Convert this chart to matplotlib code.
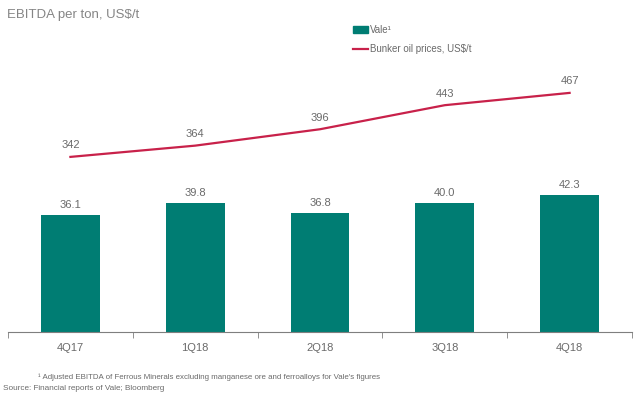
import numpy as np
import matplotlib.pyplot as plt
from matplotlib.patches import Patch
from matplotlib.lines import Line2D

plt.rcParams['font.family'] = ['Liberation Sans', 'DejaVu Sans']

quarters = ['4Q17', '1Q18', '2Q18', '3Q18', '4Q18']
vale_ebitda = [36.1, 39.8, 36.8, 40.0, 42.3]
bunker_oil = [342, 364, 396, 443, 467]

teal = '#007D73'
red = '#C8214A'
grey = '#6a6a6a'

fig = plt.figure(figsize=(6.4, 3.96), dpi=100)
ax = fig.add_axes([8 / 640, 64 / 396, 624 / 640, 292 / 396])
x = np.arange(len(quarters))

ax.bar(x, vale_ebitda, width=0.47, color=teal)
for xi, v in zip(x, vale_ebitda):
    ax.text(xi, v + 1.6, f'{v:.1f}', ha='center', va='bottom', fontsize=8, color=grey)
ax.set_xlim(-0.5, len(quarters) - 0.5)
ax.set_ylim(0, 292 / 3.23)

ax2 = ax.twinx()
ax2.plot(x, bunker_oil, color=red, lw=1.6)
for xi, v in zip(x, bunker_oil):
    ax2.text(xi, v + 13, f'{v}', ha='center', va='bottom', fontsize=8, color=grey)
ax2.set_ylim(0, 292 / 0.512)

for a in (ax, ax2):
    for s in ['top', 'right', 'left']:
        a.spines[s].set_visible(False)
    a.set_yticks([])
ax2.spines['bottom'].set_visible(False)
ax.spines['bottom'].set_color('#7f7f7f')

ax.set_xticks(np.arange(len(quarters) + 1) - 0.5, minor=True)
ax.tick_params(axis='x', which='minor', length=4, color='#7f7f7f')
ax.set_xticks(x)
ax.set_xticklabels(quarters, fontsize=8, color=grey)
ax.tick_params(axis='x', which='major', length=0, pad=8)

handles = [Patch(color=teal), Line2D([0], [0], color=red, lw=1.6)]
fig.legend(handles, ['Vale¹', 'Bunker oil prices, US$/t'], loc='upper left',
           bbox_to_anchor=(344 / 640, 1 - 16 / 396), frameon=False, fontsize=7,
           labelcolor=grey, handlelength=1.6, handletextpad=0.2, labelspacing=1.0)

fig.text(7 / 640, 1 - 15 / 396, 'EBITDA per ton, US$/t', fontsize=9.5, color='#858585', va='center')
fig.text(38 / 640, 1 - 377 / 396, '¹ Adjusted EBITDA of Ferrous Minerals excluding manganese ore and ferroalloys for Vale\'s figures',
         fontsize=5.7, color=grey, va='center')
fig.text(3 / 640, 1 - 389 / 396, 'Source: Financial reports of Vale; Bloomberg', fontsize=5.9, color=grey, va='center')

fig.savefig('out.png', dpi=100)
